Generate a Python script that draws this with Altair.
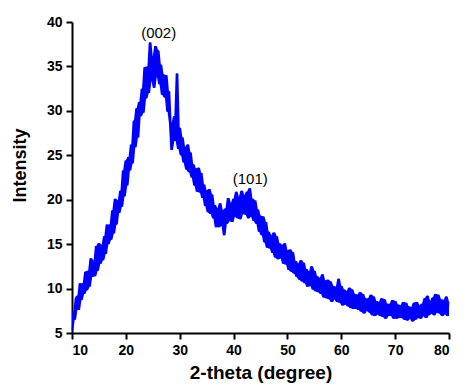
import altair as alt
import pandas as pd

# 2-theta from 10 to 80 in 0.25 degree steps; intensities
x_start = 10.0
x_step = 0.25
intensity = [
    5.3, 7.4, 6.5, 8.9,      # 10
    9.2, 7.6, 10.6, 8.7,     # 11
    10.6, 9.4, 11.9, 9.8,    # 12
    12.0, 10.2, 13.4, 11.3,  # 13
    13.1, 11.4, 14.8, 12.0,  # 14
    15.1, 12.8, 14.9, 13.2,  # 15
    15.9, 13.9, 17.2, 15.0,  # 16
    17.2, 15.5, 18.8, 16.2,  # 17
    20.1, 17.2, 19.9, 18.5,  # 18
    21.0, 19.2, 23.3, 20.4,  # 19
    24.4, 21.6, 24.8, 23.3,  # 20
    26.2, 24.1, 28.9, 25.9,  # 21
    30.3, 27.0, 31.0, 29.4,  # 22
    32.5, 29.8, 34.9, 31.4,  # 23
    35.0, 32.0, 37.7, 33.4,  # 24
    36.1, 32.6, 37.3, 33.9,  # 25
    36.8, 33.0, 35.2, 31.8,  # 26
    34.1, 31.5, 34.0, 29.9,  # 27
    32.2, 28.6, 25.6, 28.4,  # 28
    29.4, 26.6, 34.2, 25.7,  # 29
    28.1, 25.0, 27.0, 24.2,  # 30
    25.9, 23.4, 26.2, 23.1,  # 31
    25.3, 22.5, 24.0, 21.6,  # 32
    23.5, 20.9, 23.6, 20.8,  # 33
    23.0, 20.2, 21.7, 19.3,  # 34
    21.0, 18.6, 21.2, 18.4,  # 35
    20.6, 17.9, 19.4, 16.9,  # 36
    19.0, 16.9, 19.6, 17.1,  # 37
    18.8, 16.0, 19.0, 17.3,  # 38
    20.2, 17.6, 19.6, 17.5,  # 39
    20.1, 18.1, 20.9, 17.9,  # 40
    20.3, 17.8, 21.0, 18.4,  # 41
    20.5, 18.3, 20.9, 17.9,  # 42
    21.3, 18.1, 20.1, 17.6,  # 43
    19.9, 17.3, 18.9, 16.4,  # 44
    18.2, 16.0, 18.1, 15.2,  # 45
    17.5, 14.6, 16.4, 14.5,  # 46
    16.0, 14.0, 16.3, 13.5,  # 47
    15.9, 13.3, 15.1, 13.4,  # 48
    14.9, 12.8, 15.1, 12.7,  # 49
    14.3, 12.1, 14.4, 11.9,  # 50
    14.1, 11.7, 13.1, 11.3,  # 51
    12.8, 11.0, 13.2, 10.8,  # 52
    12.9, 10.6, 12.2, 10.2,  # 53
    11.9, 10.3, 12.5, 9.9,   # 54
    12.0, 9.7, 11.4, 9.6,    # 55
    11.2, 9.4, 11.6, 9.0,    # 56
    10.9, 8.9, 11.0, 8.8,    # 57
    10.8, 8.5, 10.3, 8.8,    # 58
    10.2, 8.5, 11.1, 8.4,    # 59
    10.3, 8.1, 9.9, 8.2,     # 60
    9.7, 8.0, 10.1, 7.8,     # 61
    9.9, 7.7, 9.4, 7.7,      # 62
    9.3, 7.6, 9.6, 7.4,      # 63
    9.4, 7.2, 8.9, 7.5,      # 64
    8.9, 7.3, 9.3, 7.0,      # 65
    9.1, 6.9, 8.6, 7.1,      # 66
    8.5, 6.9, 8.9, 6.8,      # 67
    8.8, 6.6, 8.3, 6.9,      # 68
    8.3, 6.9, 8.7, 6.6,      # 69
    8.6, 6.6, 8.2, 6.7,      # 70
    8.1, 6.7, 8.5, 6.5,      # 71
    8.4, 6.4, 8.0, 6.6,      # 72
    7.9, 6.3, 8.4, 6.5,      # 73
    8.5, 6.7, 8.1, 6.6,      # 74
    8.3, 6.9, 8.9, 6.7,      # 75
    9.2, 7.0, 8.6, 7.2,      # 76
    9.0, 7.0, 9.4, 7.3,      # 77
    9.3, 7.2, 8.8, 6.9,      # 78
    8.7, 7.1, 9.1, 6.9,      # 79
    8.5,                     # 80
]
two_theta = [x_start + i * x_step for i in range(len(intensity))]

label_text = ["(002)", "(101)"]
label_x = [26.1, 43.1]
label_y = [38.8, 22.3]

x_ticks = [10, 20, 30, 40, 50, 60, 70, 80]
y_ticks = [5, 10, 15, 20, 25, 30, 35, 40]

df = pd.DataFrame({"x": two_theta, "y": intensity})
lab = pd.DataFrame({"t": label_text, "x": label_x, "y": label_y})

FONT = "Liberation Sans"
BLUE = "#0000FF"

xs = alt.Scale(domain=[10, 80], nice=False, zero=False)
ys = alt.Scale(domain=[5, 40], nice=False, zero=False)

x_axis = alt.Axis(
    title="2-theta (degree)", values=x_ticks, grid=False,
    domainColor="black", domainWidth=2, tickColor="black", tickWidth=2,
    tickSize=6, labelPadding=4, labelFont=FONT, labelFontSize=14,
    labelFontWeight="bold", labelColor="black",
    titleFont=FONT, titleFontSize=19, titleFontWeight="bold",
    titleColor="black", titleY=39, titleBaseline="middle",
)
y_axis = alt.Axis(
    title="Intensity", values=y_ticks, grid=False,
    domainColor="black", domainWidth=2, tickColor="black", tickWidth=2,
    tickSize=6, labelPadding=4, labelFont=FONT, labelFontSize=14,
    labelFontWeight="bold", labelColor="black",
    titleFont=FONT, titleFontSize=18, titleFontWeight="bold",
    titleColor="black", titleX=-52, titleY=143, titleAngle=-90,
    titleAlign="center", titleBaseline="middle",
)

base = alt.Chart(df)

band = base.transform_window(
    lo="min(y)", hi="max(y)", frame=[-1, 1], sort=[alt.SortField("x")]
).mark_area(color=BLUE, opacity=1).encode(
    x=alt.X("x:Q", scale=xs, axis=x_axis),
    y=alt.Y("lo:Q", scale=ys, axis=y_axis),
    y2="hi:Q",
)

line = base.mark_line(color=BLUE, strokeWidth=0.9).encode(
    x=alt.X("x:Q", scale=xs),
    y=alt.Y("y:Q", scale=ys),
)

text = alt.Chart(lab).mark_text(font=FONT, fontSize=15, color="black").encode(
    x=alt.X("x:Q", scale=xs),
    y=alt.Y("y:Q", scale=ys),
    text="t:N",
)

chart = (band + line + text).properties(
    width=377, height=311,
    autosize=alt.AutoSizeParams(type="none"),
    padding={"left": 64, "top": 14, "right": 9, "bottom": 51},
).configure_view(stroke=None)

chart.save("out.html", embed_options={"renderer": "svg", "actions": False})
